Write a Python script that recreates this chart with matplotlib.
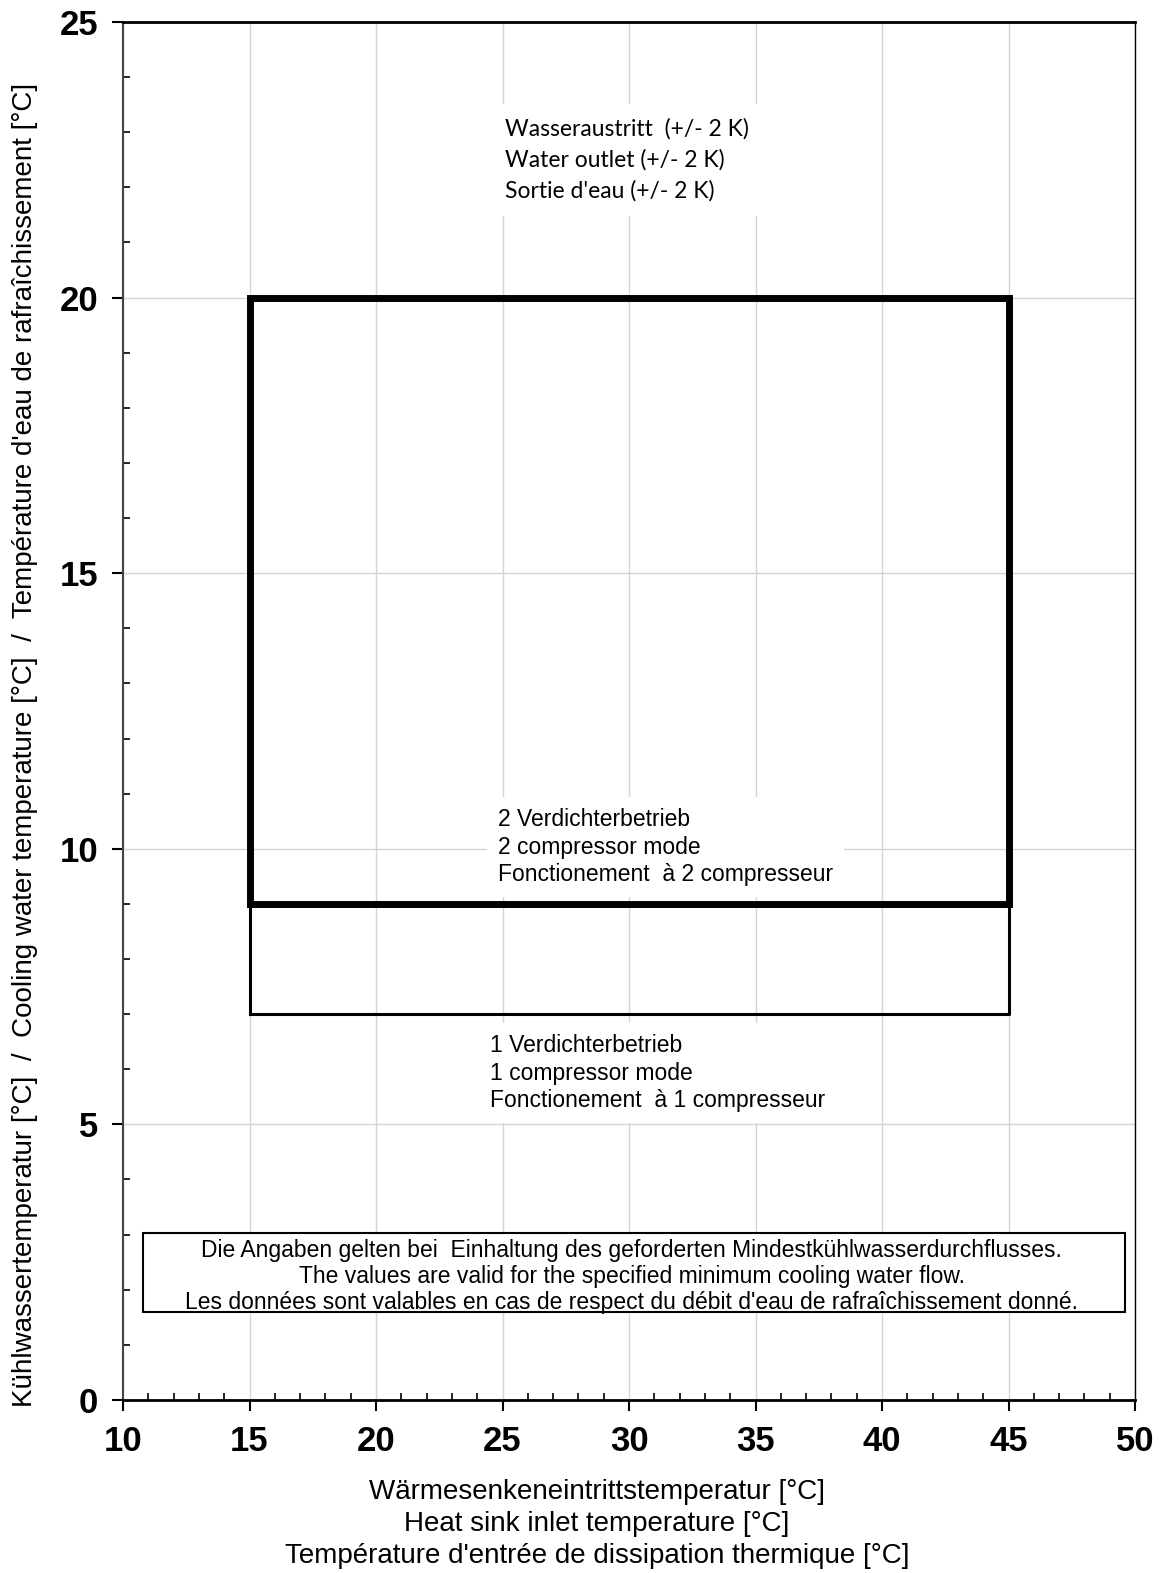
"""Operating envelope chart: cooling water vs heat sink inlet temperature."""

import matplotlib.pyplot as plt
from matplotlib.patches import Rectangle
from matplotlib.ticker import MultipleLocator

# envelope corners (heat sink inlet °C, cooling water °C)
two_comp_x = [15, 45, 45, 15, 15]
two_comp_y = [9, 9, 20, 20, 9]
one_comp_x = [15, 45, 45, 15, 15]
one_comp_y = [7, 7, 9, 9, 7]

x_ticks = [10, 15, 20, 25, 30, 35, 40, 45, 50]
y_ticks = [0, 5, 10, 15, 20, 25]

outlet_text = "Wasseraustritt  (+/- 2 K)\nWater outlet (+/- 2 K)\nSortie d'eau (+/- 2 K)"
two_comp_text = "2 Verdichterbetrieb\n2 compressor mode\nFonctionement  à 2 compresseur"
one_comp_text = "1 Verdichterbetrieb\n1 compressor mode\nFonctionement  à 1 compresseur"
note_text = ("Die Angaben gelten bei  Einhaltung des geforderten Mindestkühlwasserdurchflusses.\n"
             "The values are valid for the specified minimum cooling water flow.\n"
             "Les données sont valables en cas de respect du débit d'eau de rafraîchissement donné.")
x_label = ("Wärmesenkeneintrittstemperatur [°C]\nHeat sink inlet temperature [°C]\n"
           "Température d'entrée de dissipation thermique [°C]")
y_label = ("Kühlwassertemperatur [°C]  /  Cooling water temperature [°C]  /  "
           "Température d'eau de rafraîchissement [°C]")

plt.rcParams["font.family"] = ["Liberation Sans", "DejaVu Sans"]

fig = plt.figure(figsize=(11.62, 15.73), dpi=100)
ax = fig.add_axes([0.1059, 0.110, 0.8709, 0.876])

ax.set_xlim(10, 50)
ax.set_ylim(0, 25)
ax.set_xticks(x_ticks)
ax.set_yticks(y_ticks)
ax.xaxis.set_minor_locator(MultipleLocator(1))
ax.yaxis.set_minor_locator(MultipleLocator(1))
ax.tick_params(which="major", direction="out", length=8, width=1.5, pad=10,
               labelsize=25)
ax.tick_params(which="minor", direction="in", length=5, width=1.2)
for lab in ax.get_xticklabels() + ax.get_yticklabels():
    lab.set_fontweight("bold")

ax.grid(True, which="major", color="#d4d4d4", linewidth=1.0, zorder=0)
ax.set_axisbelow(True)
ax.spines["top"].set_linewidth(2.0)
ax.spines["bottom"].set_linewidth(2.0)
ax.spines["left"].set_linewidth(1.5)
ax.spines["left"].set_color("#444444")
ax.spines["right"].set_linewidth(1.0)

ax.plot(one_comp_x, one_comp_y, color="black", linewidth=2.2, zorder=3)
ax.plot(two_comp_x, two_comp_y, color="black", linewidth=5.0, zorder=4,
        solid_joinstyle="miter")

ax.text(25.1, 22.5, outlet_text, family=["Lato", "DejaVu Sans"], fontsize=16.5,
        ha="left", va="center", linespacing=1.56, zorder=5,
        bbox=dict(facecolor="white", edgecolor="none", pad=10))
ax.text(24.82, 10.03, two_comp_text, fontsize=16.5, ha="left", va="center",
        linespacing=1.24, zorder=5,
        bbox=dict(facecolor="white", edgecolor="none", pad=8))
ax.text(24.5, 5.93, one_comp_text, fontsize=16.5, ha="left", va="center",
        linespacing=1.26, zorder=5,
        bbox=dict(facecolor="white", edgecolor="none", pad=8))

ax.add_patch(Rectangle((10.79, 1.6), 38.81, 1.43, facecolor="white",
                       edgecolor="black", linewidth=1.5, zorder=5))
ax.text(30.1, 2.24, note_text, fontsize=16.5, ha="center", va="center",
        linespacing=1.18, zorder=6)

fig.text(597 / 1162, 1 - 1524 / 1573, x_label, fontsize=20, ha="center",
         va="center", linespacing=1.28)
fig.text(25 / 1162, 1 - 745 / 1573, y_label, fontsize=20, ha="center",
         va="center", rotation=90)

fig.savefig("out.png", dpi=100)
plt.close(fig)
